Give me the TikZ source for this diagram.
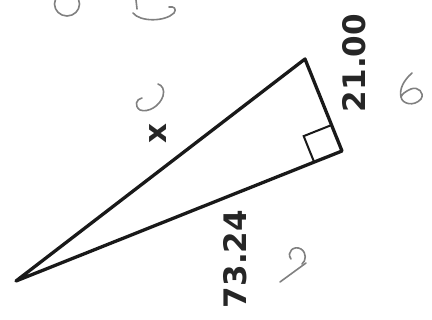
\documentclass[tikz,border=0pt]{standalone}
\usepackage{fontspec}
\newfontfamily\lblfont{DejaVu Sans}
\usetikzlibrary{calc}
\tikzset{
  side/.style={line width=3.3pt, line join=round, line cap=round, draw=black!90},
  rightmark/.style={line width=2pt, draw=black!90},
  measure/.style={font=\lblfont\bfseries\fontsize{31}{31}\selectfont, text=black!85, inner sep=0pt, rotate=90},
  pencil/.style={line width=1.6pt, draw=black!50, line cap=round, line join=round}
}
\begin{document}
\begin{tikzpicture}[x=1pt,y=-1pt]
\useasboundingbox (0,0) rectangle (432,320);
\clip (0,0) rectangle (432,320);
\fill[white] (0,0) rectangle (432,320);
% vertices
\coordinate (L) at (16,281);
\coordinate (T) at (305,59);
\coordinate (R) at (342,151);
% triangle
\draw[side] (L) -- (T) -- (R) -- cycle;
% right angle mark
\coordinate (RA) at ($(R)!28pt!(T)$);
\coordinate (RB) at ($(R)!30pt!(L)$);
\coordinate (RC) at ($(RA)+(RB)-(R)$);
\draw[rightmark] (RA) -- (RC) -- (RB);
% labels
\node[measure] (lx) at (158,134) {x};
\node[measure] (la) at (354,63) {21.00};
\node[measure] (lb) at (235,259) {73.24};
% pencil marks
\draw[pencil] (67,4) ellipse [x radius=12.5, y radius=12];
\draw[pencil] (136,0) -- (137,9);
\draw[pencil] (133,13) .. controls (140,22) and (165,22) .. (174,13) .. controls (177,9) and (174,6) .. (169,7);
\draw[pencil] (142,98) .. controls (136,99) and (134,106) .. (140,110) .. controls (148,113) and (160,106) .. (163,96) .. controls (165,90) and (162,85) .. (158,84);
\draw[pencil] (412,73) .. controls (404,80) and (399,89) .. (401,97) .. controls (402,104) and (414,107) .. (421,99) .. controls (425,93) and (418,86) .. (411,89) .. controls (406,91) and (402,94) .. (401,97);
\draw[pencil] (291,259) .. controls (286,252) and (294,245) .. (301,249) .. controls (307,253) and (306,261) .. (302,264);
\draw[pencil] (306,263) -- (280,282);
\end{tikzpicture}
\end{document}
